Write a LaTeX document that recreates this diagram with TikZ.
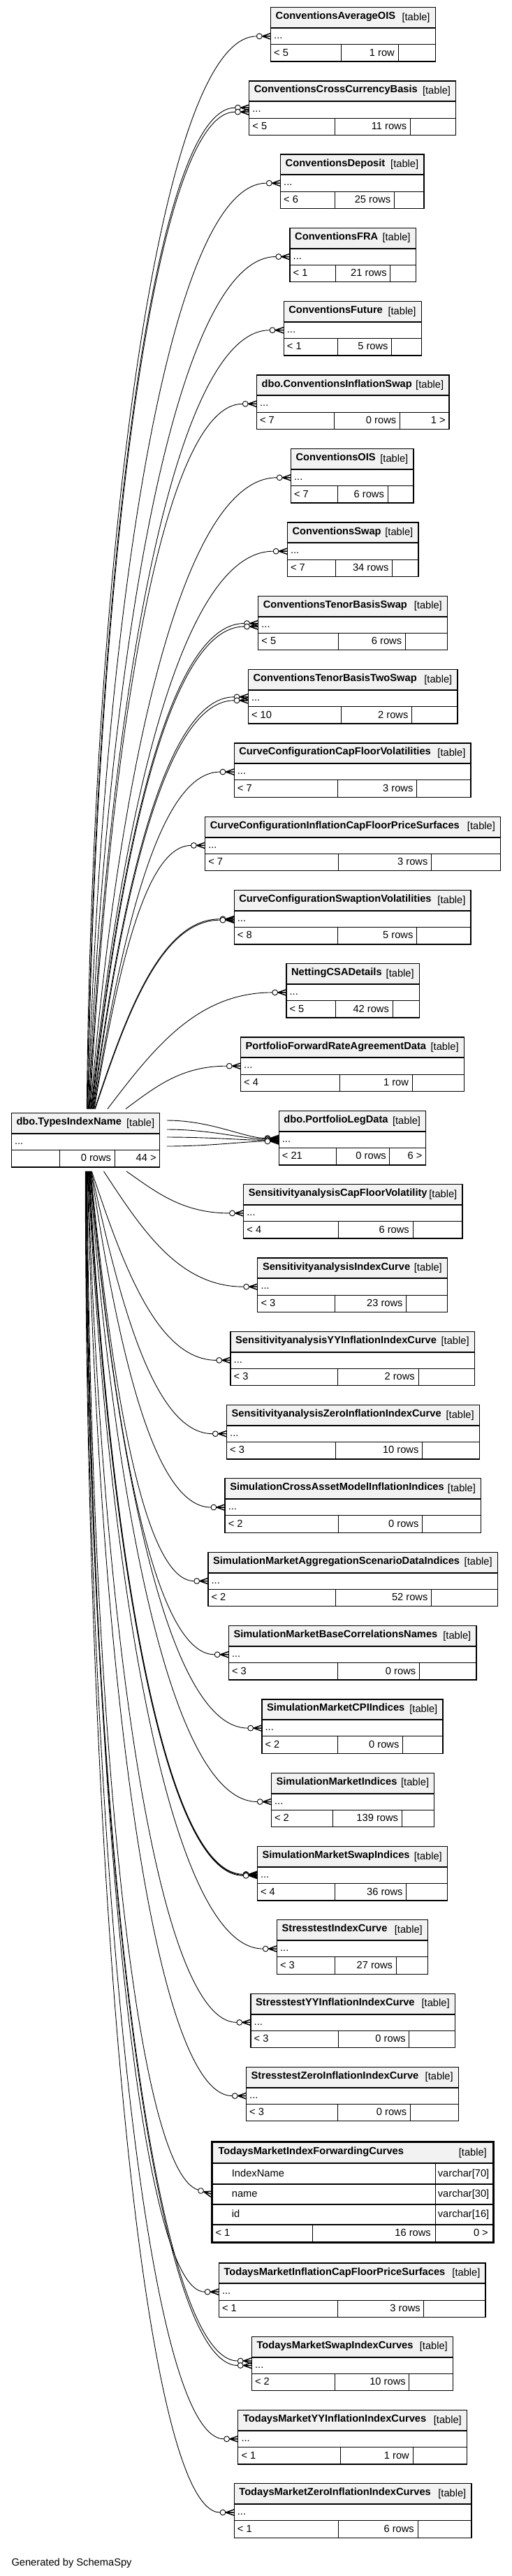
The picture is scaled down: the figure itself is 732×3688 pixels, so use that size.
\documentclass[tikz,border=0pt]{standalone}
\usepackage{fontspec}
\setmainfont{Liberation Sans}
\usetikzlibrary{calc}
\definecolor{hdrfill}{HTML}{F2F2F2}
\tikzset{
  tblframe/.style={draw, line width=1.3pt, inner sep=0pt, outer sep=0pt, anchor=north west},
  hdrline/.style={line width=2pt},
  rowline/.style={line width=1pt},
  celltxt/.style={inner sep=0pt, font=\fontsize{14.67}{16}\selectfont},
  ttl/.style={inner sep=0pt, font=\fontsize{14.67}{16}\selectfont\bfseries},
  fk/.style={line width=0.9pt},
  crowfoot/.pic={
    \draw[fk, fill=white] (-16.2,0) circle [radius=3.9];
    \draw[fk, line width=1.5pt] (-12,0) -- (0,-4.2) (-12,0) -- (0,0) (-12,0) -- (0,4.2);
  }
}
% foreign key line from a point on the hub to the "..." row of a table
\newcommand\fkedge[3]{%
  \draw[fk] let \p1=#1, \p2=($(#2-in)+(-20.1,#3)$),
      \n1={max(0,1-abs((\y2)-(\y1))/1700)} in
    (\p1) .. controls ({\x1+0.3*\n1*(\x2-\x1)},{\y1+0.5*(\y2-\y1)})
            and ({\x1+(0.4+0.15*\n1)*(\x2-\x1)},{\y2}) .. (\p2);
  \pic at ($(#2-in)+(0,#3)$) {crowfoot};
}

\begin{document}
\begin{tikzpicture}[x=1pt, y=-1pt]
  \fill[white] (0,0) rectangle (732,3688);

  % tables: name/left/right/top/title/sep1/sep2/parents/rows/children
  \foreach \tn/\xa/\xb/\ty/\ttl/\sepa/\sepb/\pa/\nr/\kids in {
    avgois/387.5/623.2/10.7/ConventionsAverageOIS/488.8/570/< 5/1 row/{},
    ccybasis/356.7/652.7/116/ConventionsCrossCurrencyBasis/479/587.3/< 5/11 rows/{},
    deposit/401.5/606.9/221/ConventionsDeposit/479/564.4/< 6/25 rows/{},
    fra/415/595.2/326.3/ConventionsFRA/480.4/558.8/< 1/21 rows/{},
    future/406.2/603.2/431.5/ConventionsFuture/483.2/560.7/< 1/5 rows/{},
    inflswap/367.4/642.9/537/dbo.ConventionsInflationSwap/478/572.4/< 7/0 rows/1 >,
    ois/416.4/592/642.6/ConventionsOIS/483.2/555.1/< 7/6 rows/{},
    swap/411.3/599/748/ConventionsSwap/480.4/561.6/< 7/34 rows/{},
    tbswap/369.7/640.5/853.3/ConventionsTenorBasisSwap/484.6/580.3/< 5/6 rows/{},
    tbtwoswap/355.3/655/958.6/ConventionsTenorBasisTwoSwap/488.3/589.6/< 10/2 rows/{},
    ccfvol/335.2/674.1/1063.9/CurveConfigurationCapFloorVolatilities/483.2/596.6/< 7/3 rows/{},
    ccinfl/293.6/716.6/1169.2/CurveConfigurationInflationCapFloorPriceSurfaces/484.6/617.6/< 7/3 rows/{},
    ccswpt/335.2/674.1/1274.5/CurveConfigurationSwaptionVolatilities/483.2/596.6/< 8/5 rows/{},
    netting/409.9/600.4/1379.7/NettingCSADetails/480.4/562.1/< 5/42 rows/{},
    pfra/344.5/664.3/1485/PortfolioForwardRateAgreementData/486.9/590.1/< 4/1 row/{},
    pld/399.2/609.7/1590.5/dbo.PortfolioLegData/481.8/557.9/< 21/0 rows/6 >,
    hub/16.3/228.8/1593.5/dbo.TypesIndexName/85.9/164.3/{}/0 rows/44 >,
    sacfvol/348.7/662/1695.7/SensitivityanalysisCapFloorVolatility/484.6/591/< 4/6 rows/{},
    saidx/368.8/640.5/1801/SensitivityanalysisIndexCurve/479/581.7/< 3/23 rows/{},
    sayy/330/679.3/1906.2/SensitivityanalysisYYInflationIndexCurve/483.2/599/< 3/2 rows/{},
    sazero/324.5/686.3/2011.5/SensitivityanalysisZeroInflationIndexCurve/480.4/604.6/< 3/10 rows/{},
    simcam/322.1/688.6/2116.8/SimulationCrossAssetModelInflationIndices/484.6/604.6/< 2/0 rows/{},
    simagg/297.9/712.4/2222.3/SimulationMarketAggregationScenarioDataIndices/480.4/617.6/< 2/52 rows/{},
    simbc/327.3/682/2327.6/SimulationMarketBaseCorrelationsNames/483.2/600.4/< 3/0 rows/{},
    simcpi/374.9/634/2432.9/SimulationMarketCPIIndices/483.2/576.6/< 2/0 rows/{},
    simidx/388.4/621.8/2538.3/SimulationMarketIndices/476.7/575.2/< 2/139 rows/{},
    simswp/368.3/640.5/2643.6/SimulationMarketSwapIndices/479/581.7/< 4/36 rows/{},
    stidx/396.4/612.5/2748.8/StresstestIndexCurve/479/567.2/< 3/27 rows/{},
    styy/359/651.3/2854.2/StresstestYYInflationIndexCurve/484.6/585.9/< 3/0 rows/{},
    stzero/352.5/656.4/2959.4/StresstestZeroInflationIndexCurve/483.2/587.3/< 3/0 rows/{},
    tminfl/313.3/695.1/3240/TodaysMarketInflationCapFloorPriceSurfaces/483.2/606.9/< 1/3 rows/{},
    tmswp/360.4/648.5/3345.3/TodaysMarketSwapIndexCurves/479/585.9/< 2/10 rows/{},
    tmyy/340.8/668.5/3450.6/TodaysMarketYYInflationIndexCurves/487/591/< 1/1 row/{},
    tmzero/335.2/675/3555.8/TodaysMarketZeroInflationIndexCurves/484.6/598/< 1/6 rows/{}%
  }{
    \fill[hdrfill] (\xa,\ty) rectangle (\xb,\ty+29.4);
    \draw[hdrline] (\xa,\ty+29.4) -- (\xb,\ty+29.4);
    \draw[rowline] (\xa,\ty+53) -- (\xb,\ty+53)
      (\sepa,\ty+53) -- (\sepa,\ty+77.4) (\sepb,\ty+53) -- (\sepb,\ty+77.4);
    \node[tblframe, minimum width={(\xb-\xa)*1pt}, minimum height=77.4pt] (\tn) at (\xa,\ty) {};
    \node[ttl, anchor=base west] (\tn-t) at (\xa+7,\ty+17) {\ttl};
    \node[celltxt, anchor=base east] (\tn-g) at (\xb-7.5,\ty+18.5) {[table]};
    \node[celltxt, anchor=base west] (\tn-d) at (\xa+4.5,\ty+44.8) {...};
    \node[celltxt, anchor=base west] (\tn-p) at (\xa+4.5,\ty+69.4) {\pa};
    \node[celltxt, anchor=base east] (\tn-r) at (\sepb-5,\ty+69.4) {\nr};
    \node[celltxt, anchor=base east] (\tn-c) at (\xb-5,\ty+69.4) {\kids};
    \coordinate (\tn-in) at (\xa,\ty+41.2);
  }

  % the selected table
  \fill[hdrfill] (303,3066.5) rectangle (706.5,3097);
  \foreach \yy in {3097,3126.7,3155.7,3184.7}
    \draw[hdrline] (303,\yy) -- (706.5,\yy);
  \draw[rowline] (623.3,3097) -- (623.3,3210.8) (447.3,3184.7) -- (447.3,3210.8);
  \node[tblframe, line width=3pt, minimum width=403.5pt, minimum height=144.3pt] (tmfwd) at (303,3066.5) {};
  \node[ttl, anchor=base west] (tmfwd-t) at (312.3,3084.5) {TodaysMarketIndexForwardingCurves};
  \node[celltxt, anchor=base east] (tmfwd-g) at (697,3086) {[table]};
  \foreach \col/\typ/\yy in {IndexName/varchar[70]/3116.5, name/varchar[30]/3145.5, id/varchar[16]/3174.5}{
    \node[celltxt, anchor=base west] (tmfwd-\col) at (331.7,\yy) {\col};
    \node[celltxt, anchor=base west] (tmfwd-\col-type) at (626.7,\yy) {\typ};
  }
  \node[celltxt, anchor=base west] (tmfwd-p) at (308.3,3201) {< 1};
  \node[celltxt, anchor=base east] (tmfwd-r) at (617,3201) {16 rows};
  \node[celltxt, anchor=base east] (tmfwd-c) at (699,3201) {0 >};
  \coordinate (tmfwd-in) at (303,3141.2);

  % edges going up
  \foreach \sx/\tn/\dy in {108/avgois/0, 108.75/ccybasis/-3, 109.5/ccybasis/3,
      110.25/deposit/0, 111/fra/0, 111.75/future/0, 112.5/inflswap/0, 113.25/ois/0,
      114/swap/0, 114.75/tbswap/-2, 115.5/tbswap/2.5, 116.25/tbtwoswap/-2,
      117/tbtwoswap/3, 117.75/ccfvol/0, 118.5/ccinfl/0, 119.25/ccswpt/0,
      120/ccswpt/1.5, 137.7/netting/0, 163.7/pfra/0}
    {\fkedge{($(hub.north west)+(\sx,-6)$)}{\tn}{\dy}}

  % edges going down
  \foreach \sx/\tn/\dy in {164.7/sacfvol/0, 132.2/saidx/0, 115/sayy/0, 114.5/sazero/0,
      114/simcam/0, 113.5/simagg/0, 113/simbc/0, 112.5/simcpi/0, 112/simidx/0,
      111.5/simswp/-1.5, 111/simswp/-0.5, 110.5/simswp/0.5, 110/stidx/0,
      109.5/styy/0, 109/stzero/0, 108/tminfl/0, 107.5/tmswp/-6.5, 107/tmswp/0,
      106.5/tmyy/0, 106/tmzero/0}
    {\fkedge{($(hub.south west)+(\sx,6)$)}{\tn}{\dy}}

  \draw[fk] ($(hub.south west)+(108.5,6)$) .. controls +(4,730) and +(-95,-29)
    .. ($(tmfwd-in)+(-19.2,-5.9)$);
  \pic[rotate=-17] at (tmfwd-in) {crowfoot};

  % edges to the right
  \foreach \dd/\off in {10.5/-2.25, 23.5/-0.75, 34.5/0.75, 47.5/2.25}{
    \draw[fk] let \p1=($(hub.north east)+(10,\dd)$), \p2=($(pld-in)+(-20.1,\off)$) in
      (\p1) .. controls ({\x1+0.45*(\x2-\x1)},{\y1}) and ({\x2-0.2*(\x2-\x1)},{\y2}) .. (\p2);
    \pic at ($(pld-in)+(0,\off)$) {crowfoot};
  }

  \node[celltxt, anchor=base west] (gen) at (16.3,3673) {Generated by SchemaSpy};
\end{tikzpicture}
\end{document}
